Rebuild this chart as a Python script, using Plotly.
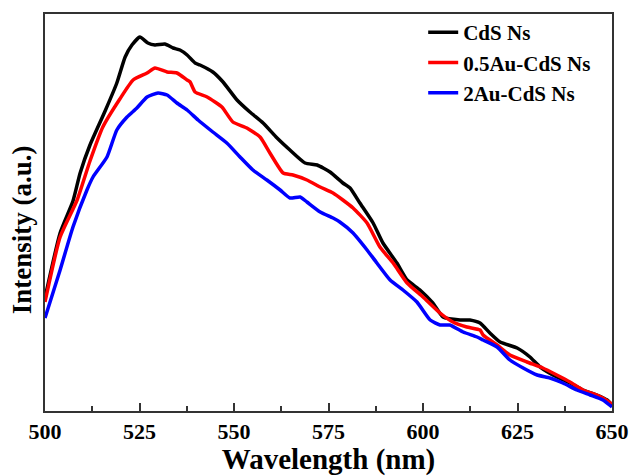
import plotly.graph_objects as go

# Wavelength (nm) and intensity (a.u.)
cds_x = [500, 504.0, 507.4, 509.3, 511.9, 515.9, 519.0, 521.2, 523.0, 525.1, 527.2, 529.1,
         531.7, 533.9, 535.7, 537.6, 539.7, 541.0, 544.4, 547.1, 550.8, 554.2, 557.7, 561.4,
         564.8, 568.8, 572.0, 575.4, 578.8, 580.7, 583.3, 586.8, 589.4, 593.1, 595.8, 599.2,
         602.6, 605.3, 609.8, 612.4, 615.1, 617.7, 620.4, 624.9, 628.3, 631.0, 635.4, 638.9,
         642.3, 646.0, 648.7, 650.0]
cds_y = [113, 178, 210, 238, 266, 300, 328, 354, 366, 374, 368, 366,
         367, 363, 361, 356, 348, 346, 339, 329, 311, 299, 288, 273,
         261, 248, 246, 239, 228, 223, 208, 188, 168, 148, 131, 121,
         108, 94, 91, 91, 88, 78, 69, 63, 54, 44, 34, 28,
         21, 16, 11, 6]

au05_x = [500, 504.0, 508.5, 511.9, 515.3, 519.8, 523.3, 527.0, 529.1, 532.3, 534.9,
          537.6, 538.4, 539.7, 542.9, 546.8, 549.7, 553.4, 556.9, 559.5, 563.0, 565.6, 569.3,
          572.8, 576.2, 578.8, 581.5, 585.2, 588.6, 592.1, 595.8, 600.0, 604.5, 607.9, 611.6,
          615.1, 615.9, 619.6, 623.0, 627.5, 631.7, 635.4, 638.9, 642.3, 646.0, 647.6, 650.0]
au05_y = [109, 174, 211, 250, 284, 312, 331, 338, 343, 339, 338,
          331, 329, 319, 314, 304, 289, 283, 274, 258, 238, 236, 231,
          224, 218, 211, 203, 188, 164, 148, 128, 114, 98, 89, 84,
          81, 76, 66, 56, 49, 43, 36, 29, 21, 16, 13, 7]

au2_x = [500, 504.0, 507.4, 511.1, 512.7, 516.4, 519.0, 521.7, 524.3, 527.0, 529.9, 532.3,
         534.9, 537.6, 540.5, 544.4, 548.1, 551.6, 555.0, 558.7, 562.2, 564.8, 567.5, 569.3,
         572.8, 576.2, 578.0, 581.5, 585.2, 587.8, 591.3, 594.7, 598.4, 601.9, 604.5, 607.1,
         610.6, 614.3, 615.9, 619.6, 623.0, 626.5, 630.2, 633.6, 637.0, 640.7, 644.2, 647.6,
         650.0]
au2_y = [93, 141, 184, 221, 234, 254, 281, 294, 303, 314, 318, 316,
         308, 301, 291, 279, 268, 254, 241, 231, 221, 213, 214, 209,
         199, 193, 189, 178, 161, 148, 131, 121, 109, 91, 86, 86,
         79, 74, 71, 64, 51, 43, 36, 33, 28, 21, 16, 11,
         4]

names = ["CdS Ns", "0.5Au-CdS Ns", "2Au-CdS Ns"]
colors = ["#000000", "#ff0000", "#0000ff"]
x_ticks = [500, 525, 550, 575, 600, 625, 650]

FONT = "Times New Roman, Liberation Serif, serif"

fig = go.Figure()
for xs, ys, nm, c in zip([cds_x, au05_x, au2_x], [cds_y, au05_y, au2_y], names, colors):
    fig.add_trace(go.Scatter(x=xs, y=ys, mode="lines", name=nm,
                             line=dict(color=c, width=3.5, shape="spline", smoothing=0.5)))

fig.update_layout(
    width=632, height=476,
    margin=dict(l=45, r=20, t=14, b=65),
    paper_bgcolor="white", plot_bgcolor="white",
    font=dict(family=FONT, size=22, color="black", weight="bold"),
    showlegend=True,
    legend=dict(x=0.667, y=1.005, xanchor="left", yanchor="top",
                bgcolor="rgba(0,0,0,0)", font=dict(family=FONT, size=21, weight="bold"),
                tracegroupgap=0),
    annotations=[dict(text="Intensity (a.u.)", textangle=-90, xref="paper", yref="paper",
                      x=-0.0406, y=0.458, xanchor="center", yanchor="middle", showarrow=False,
                      font=dict(family=FONT, size=27, weight="bold", color="black"))],
)
fig.update_xaxes(
    range=[500, 650], tickvals=x_ticks, ticktext=[str(v) for v in x_ticks],
    ticks="inside", ticklen=8, tickwidth=1.5, tickcolor="#333",
    minor=dict(ticks="inside", ticklen=5, tickwidth=1.5, tickcolor="#333", dtick=12.5, tick0=500),
    showline=True, linecolor="#333", linewidth=1.5, mirror=True,
    showgrid=False, zeroline=False, automargin=False,
    tickfont=dict(family=FONT, size=22, weight="bold"),
    title=dict(text="Wavelength (nm)", font=dict(family=FONT, size=29, weight="bold"), standoff=4),
)
fig.update_yaxes(
    range=[0, 397], showticklabels=False, ticks="",
    showline=True, linecolor="#333", linewidth=1.5, mirror=True,
    showgrid=False, zeroline=False, automargin=False,
)

fig.write_html("out.html")
